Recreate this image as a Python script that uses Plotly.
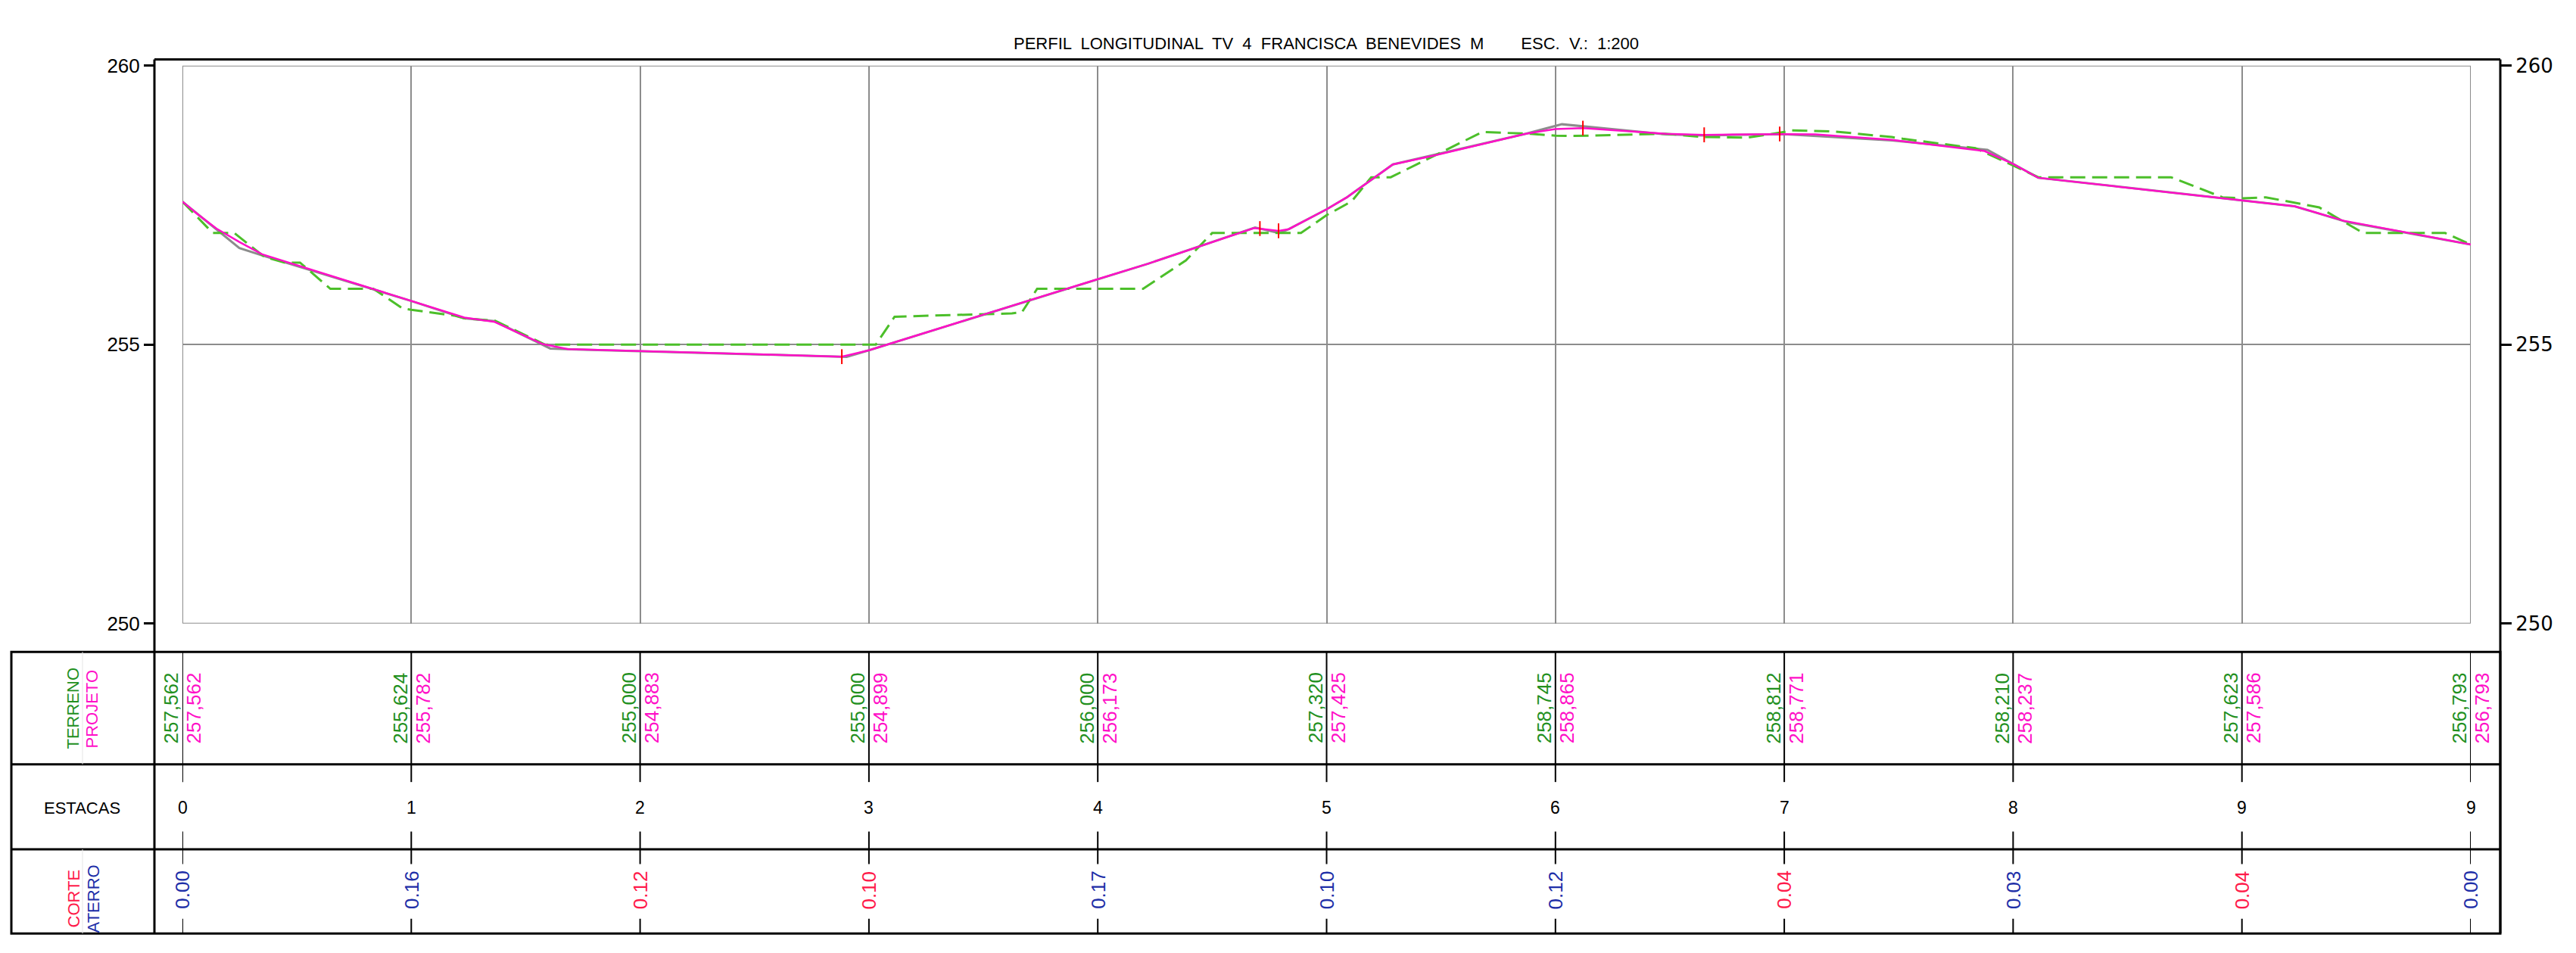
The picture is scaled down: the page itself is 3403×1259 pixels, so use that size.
import plotly.graph_objects as go

W, H = 3403, 1259

# ---------------- data ----------------
estacas = ["0", "1", "2", "3", "4", "5", "6", "7", "8", "9", "9"]
station_m = [0, 20, 40, 60, 80, 100, 120, 140, 160, 180, 200]
terreno = [257.562, 255.624, 255.000, 255.000, 256.000, 257.320, 258.745, 258.812, 258.210, 257.623, 256.793]
projeto = [257.562, 255.782, 254.883, 254.899, 256.173, 257.425, 258.865, 258.771, 258.237, 257.586, 256.793]
corte_aterro = [0.00, 0.16, 0.12, 0.10, 0.17, 0.10, 0.12, 0.04, 0.03, 0.04, 0.00]
tipo = ["A", "A", "C", "C", "A", "A", "A", "C", "A", "C", "A"]  # C = corte, A = aterro

# terrain profile (green dashed)
terrain_x = [0, 2.65, 4.53, 7.18, 8.95, 10.28, 12.93, 16.69, 19.23, 20, 23.76, 24.64, 27.29, 31.7,
             60.6, 62.24, 72.5, 73.37, 74.7, 83.96, 87.7, 90.0, 97.76, 100, 102.2, 103.9, 105.6,
             113.6, 117.8, 120, 121.6, 129.65, 133.0, 136.8, 140, 140.6, 144.4, 149.4, 150.35,
             156.7, 160, 162.2, 173.8, 178.3, 180, 182.1, 186.75, 190.6, 197.76, 200]
terrain_y = [257.562, 257.0, 257.0, 256.57, 256.47, 256.47, 256.0, 256.0, 255.65, 255.624, 255.52,
             255.47, 255.43, 255.0, 255.0, 255.5, 255.56, 255.58, 256.0, 256.0, 256.51, 257.0, 257.0,
             257.32, 257.57, 258.0, 258.0, 258.81, 258.78, 258.745, 258.74, 258.78, 258.72, 258.71,
             258.812, 258.84, 258.82, 258.72, 258.69, 258.52, 258.21, 258.0, 258.0, 257.64, 257.623,
             257.64, 257.46, 257.0, 257.0, 256.793]

# design profile (magenta)
proj_x = [0, 1.44, 2.98, 4.97, 6.96, 20, 24.64, 27.29, 31.49, 33.7, 40, 57.63, 60, 63.45, 80, 84.4,
          93.66, 95.8, 96.7, 100, 101.77, 105.79, 109.38, 117.4, 120, 122.4, 125.5, 129.65, 133.0,
          139.6, 140, 142.7, 149.4, 157.5, 160, 162.2, 180, 184.6, 188.9, 200]
proj_y = [257.562, 257.32, 257.08, 256.84, 256.62, 255.782, 255.485, 255.406, 255.01, 254.92, 254.883,
          254.784, 254.899, 255.12, 256.173, 256.45, 257.09, 257.04, 257.07, 257.425, 257.64, 258.23,
          258.39, 258.78, 258.865, 258.88, 258.84, 258.78, 258.76, 258.775, 258.771, 258.77, 258.67,
          258.47, 258.237, 257.99, 257.586, 257.48, 257.22, 256.793]

# tangent polyline (gray)
tang_x = [0, 4.97, 6.96, 20, 24.64, 27.29, 32.15, 34.0, 40, 58.05, 60, 80, 84.4, 93.75, 95.86, 96.7,
          100, 101.77, 105.79, 117.4, 120.57, 129.65, 133.0, 140, 149.4, 157.76, 160, 162.2, 180,
          184.6, 189.3, 191.0, 200]
tang_y = [257.562, 256.73, 256.60, 255.782, 255.47, 255.42, 254.93, 254.915, 254.883, 254.78, 254.899,
          256.173, 256.45, 257.10, 257.0, 257.07, 257.425, 257.64, 258.23, 258.78, 258.95, 258.77,
          258.75, 258.771, 258.66, 258.49, 258.237, 257.99, 257.586, 257.48, 257.19, 257.13, 256.793]

# PIV marks (red)
piv_x = [57.63, 94.17, 95.8, 122.4, 133.0, 139.6]
piv_y = [254.784, 257.08, 257.04, 258.88, 258.76, 258.775]

y_ticks = [250, 255, 260]
title_text = "PERFIL  LONGITUDINAL  TV  4  FRANCISCA  BENEVIDES  M        ESC.  V.:  1:200"

# ---------------- styling ----------------
GRAY = "#8c8c8c"
GREEN_LINE = "#4cbf2a"
GREEN_TXT = "#22901e"
MAGENTA = "#ff10c8"
RED_TXT = "#ff1a4a"
BLUE_TXT = "#1e2fa8"
FONT = "Liberation Sans"


def px(x):
    return x / W


def py(y):
    return 1 - y / H


fig = go.Figure()
fig.add_trace(go.Scatter(x=tang_x, y=tang_y, mode="lines",
                         line=dict(color=GRAY, width=3), hoverinfo="skip"))
fig.add_trace(go.Scatter(x=terrain_x, y=terrain_y, mode="lines",
                         line=dict(color=GREEN_LINE, width=3, dash="20px,9px"), name="TERRENO"))
fig.add_trace(go.Scatter(x=proj_x, y=proj_y, mode="lines",
                         line=dict(color=MAGENTA, width=2.5), name="PROJETO"))
fig.add_trace(go.Scatter(x=piv_x, y=piv_y, mode="markers", yaxis="y2",
                         marker=dict(symbol="line-ns", size=14, color="#ff0000",
                                     line=dict(color="#ff0000", width=2)),
                         name="PIV"))

shapes = []
BLACK = "#000000"
# outer frame
shapes.append(dict(type="line", xref="paper", yref="paper", x0=px(204), x1=px(3303), y0=py(65), y1=py(65),
                   line=dict(color=BLACK, width=3)))
shapes.append(dict(type="line", xref="paper", yref="paper", x0=px(204), x1=px(204), y0=py(65), y1=py(1248),
                   line=dict(color=BLACK, width=3)))
shapes.append(dict(type="line", xref="paper", yref="paper", x0=px(3303), x1=px(3303), y0=py(65), y1=py(1248),
                   line=dict(color=BLACK, width=3)))
# table
shapes.append(dict(type="rect", xref="paper", yref="paper", x0=px(15), x1=px(3303), y0=py(867), y1=py(1248),
                   line=dict(color=BLACK, width=3)))
for yy in (1019, 1134):
    shapes.append(dict(type="line", xref="paper", yref="paper", x0=px(15), x1=px(3303), y0=py(yy), y1=py(yy),
                       line=dict(color=BLACK, width=3)))
for (a, b) in ((867, 1019), (1134, 1248)):
    shapes.append(dict(type="line", xref="paper", yref="paper", x0=px(109), x1=px(109), y0=py(a), y1=py(b),
                       line=dict(color="#e6e6e6", width=1)))
# inner gray box
shapes.append(dict(type="rect", xref="x", yref="y", x0=station_m[0], x1=station_m[-1], y0=y_ticks[0],
                   y1=y_ticks[-1], line=dict(color=GRAY, width=2), layer="below"))
# station ticks in table
for m in station_m:
    for (a, b) in ((867, 1019), (1019, 1043), (1110, 1134), (1134, 1154), (1228, 1248)):
        shapes.append(dict(type="line", xref="x", yref="paper", x0=m, x1=m, y0=py(a), y1=py(b),
                           line=dict(color=BLACK, width=2)))

CM = dict(xanchor="center", yanchor="middle", showarrow=False)
ann = []
ann.append(dict(text=title_text, x=px(1752), y=py(44), xref="paper", yref="paper",
                font=dict(family=FONT, size=22, color=BLACK), **CM))
# header labels
ann.append(dict(text="TERRENO", x=px(97), y=py(943), xref="paper", yref="paper",
                textangle=-90, font=dict(family=FONT, size=22, color=GREEN_TXT), **CM))
ann.append(dict(text="PROJETO", x=px(122), y=py(944), xref="paper", yref="paper",
                textangle=-90, font=dict(family=FONT, size=22, color=MAGENTA), **CM))
ann.append(dict(text="ESTACAS", x=px(109), y=py(1078), xref="paper", yref="paper",
                font=dict(family=FONT, size=22, color=BLACK), **CM))
ann.append(dict(text="CORTE", x=px(97), y=py(1201), xref="paper", yref="paper",
                textangle=-90, font=dict(family=FONT, size=22, color=RED_TXT), **CM))
ann.append(dict(text="ATERRO", x=px(123), y=py(1201), xref="paper", yref="paper",
                textangle=-90, font=dict(family=FONT, size=22, color=BLUE_TXT), **CM))

for m, lab, t, p, cf, tp in zip(station_m, estacas, terreno, projeto, corte_aterro, tipo):
    ann.append(dict(text=f"{t:.3f}".replace(".", ","), x=m, y=py(943), xref="x", yref="paper",
                    xshift=-15, textangle=-90,
                    font=dict(family=FONT, size=26, color=GREEN_TXT), **CM))
    ann.append(dict(text=f"{p:.3f}".replace(".", ","), x=m, y=py(943), xref="x", yref="paper",
                    xshift=15, textangle=-90,
                    font=dict(family=FONT, size=26, color=MAGENTA), **CM))
    ann.append(dict(text=lab, x=m, y=py(1078), xref="x", yref="paper",
                    font=dict(family=FONT, size=23, color=BLACK), **CM))
    ann.append(dict(text=f"{cf:.2f}", x=m, y=py(1189), xref="x", yref="paper",
                    textangle=-90,
                    font=dict(family=FONT, size=26, color=RED_TXT if tp == "C" else BLUE_TXT), **CM))

fig.update_layout(
    width=W, height=H,
    margin=dict(l=0, r=0, t=0, b=0),
    paper_bgcolor="white", plot_bgcolor="white",
    showlegend=False,
    shapes=shapes,
    annotations=ann,
    xaxis=dict(domain=[px(241), px(3264)], range=[station_m[0], station_m[-1]], tickvals=station_m,
               showticklabels=False, ticks="", showgrid=True, gridcolor=GRAY, gridwidth=2,
               zeroline=False, showline=False, anchor="y", fixedrange=True),
    yaxis=dict(domain=[py(828.5), py(73.5)], range=[y_ticks[0], y_ticks[-1]], tickvals=y_ticks,
               showgrid=True, gridcolor=GRAY, gridwidth=2, zeroline=False, showline=False,
               anchor="free", position=px(204), side="left", ticks="outside", ticklen=14,
               tickwidth=3, tickcolor=BLACK, tickfont=dict(family=FONT, size=26, color=BLACK)),
    yaxis2=dict(domain=[py(828.5), py(73.5)], range=[y_ticks[0], y_ticks[-1]], tickvals=y_ticks,
                overlaying="y", anchor="free", position=px(3303), side="right", showgrid=False,
                zeroline=False, showline=False, ticks="outside", ticklen=14, tickwidth=3,
                tickcolor=BLACK, tickfont=dict(family="DejaVu Sans", size=26, color=BLACK)),
)

fig.write_html("out.html", config={"displayModeBar": False},
               post_script="document.body.style.margin='0';document.body.style.overflow='hidden';")
